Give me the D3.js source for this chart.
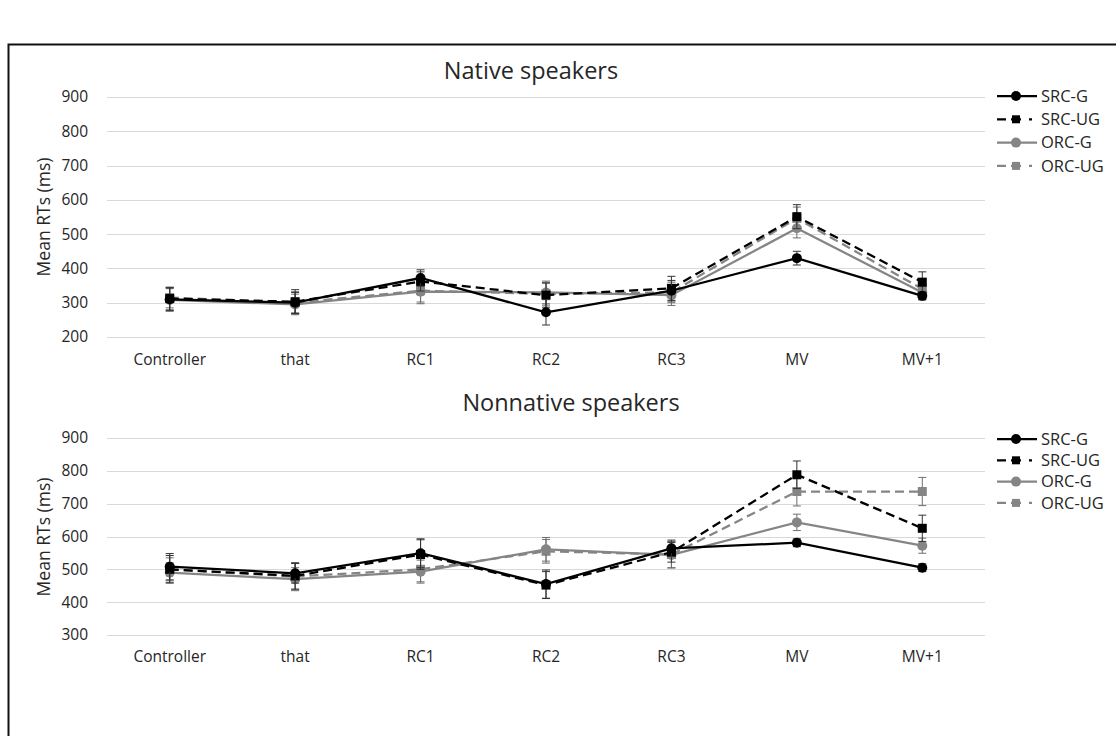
<!DOCTYPE html>
<html>
<head>
<meta charset="utf-8">
<script src="https://cdn.jsdelivr.net/npm/d3@7"></script>
<style>
  body { margin: 0; background: #fff; }
  text { font-family: "Open Sans", "Noto Sans", sans-serif; fill: #262626; }
</style>
</head>
<body>
<svg id="chart" width="1116" height="736"></svg>
<script>
const categories = ['Controller', 'that', 'RC1', 'RC2', 'RC3', 'MV', 'MV+1'];
const seriesNames = ['SRC-G', 'SRC-UG', 'ORC-G', 'ORC-UG'];

// native speakers: mean RTs and error (+/-)
const nativeSrcG = [310, 300, 372, 272, 335, 430, 320];
const nativeSrcUG = [312, 303, 362, 322, 342, 551, 360];
const nativeOrcG = [308, 295, 332, 330, 322, 517, 330];
const nativeOrcUG = [315, 300, 335, 326, 330, 546, 340];
const nativeSrcGErr = [33, 30, 24, 37, 30, 20, 12];
const nativeSrcUGErr = [33, 35, 28, 35, 35, 35, 30];
const nativeOrcGErr = [33, 30, 35, 33, 30, 28, 18];
const nativeOrcUGErr = [30, 32, 33, 33, 30, 33, 30];

// nonnative speakers
const nonnativeSrcG = [508, 488, 549, 455, 564, 581, 505];
const nonnativeSrcUG = [500, 480, 545, 452, 552, 788, 625];
const nonnativeOrcG = [490, 470, 493, 561, 544, 643, 572];
const nonnativeOrcUG = [500, 478, 500, 555, 545, 737, 737];
const nonnativeSrcGErr = [40, 30, 44, 43, 25, 12, 12];
const nonnativeSrcUGErr = [42, 40, 45, 41, 30, 42, 40];
const nonnativeOrcGErr = [30, 35, 35, 36, 40, 25, 23];
const nonnativeOrcUGErr = [35, 40, 38, 36, 40, 44, 43];

const nativeTicks = [200, 300, 400, 500, 600, 700, 800, 900];
const nonnativeTicks = [300, 400, 500, 600, 700, 800, 900];

const styles = {
  'SRC-G':  { color: '#000000', dash: null, legendDash: null, shape: 'circle' },
  'SRC-UG': { color: '#000000', dash: '9,5', legendDash: '9,5,10,8,3,20', shape: 'square' },
  'ORC-G':  { color: '#858585', dash: null, legendDash: null, shape: 'circle' },
  'ORC-UG': { color: '#858585', dash: '9,5', legendDash: '9,5,10,8,3,20', shape: 'square' }
};

const svg = d3.select('#chart');

// outer frame (only top and left edges are in view)
svg.append('path')
    .attr('d', 'M8.5,736 L8.5,44.5 L1116,44.5')
    .attr('fill', 'none')
    .attr('stroke', '#111')
    .attr('stroke-width', 2);

function drawPanel(opt) {
  const x = d3.scaleBand().domain(categories).range([107, 985]);
  const y = d3.scaleLinear().domain(opt.domain).range([opt.bottom, opt.top]);
  const g = svg.append('g');

  g.append('g').selectAll('line')
    .data(opt.ticks)
    .enter().append('line')
      .attr('x1', 107).attr('x2', 985)
      .attr('y1', function(d) { return Math.round(y(d)) + 0.5; })
      .attr('y2', function(d) { return Math.round(y(d)) + 0.5; })
      .attr('stroke', '#d9d9d9')
      .attr('stroke-width', 1.2);

  const yAxis = g.append('g')
      .attr('transform', 'translate(107,0)')
      .call(d3.axisLeft(y).tickValues(opt.ticks).tickSize(0).tickPadding(19));
  yAxis.select('.domain').remove();
  yAxis.selectAll('text')
      .attr('font-size', 15.5)
      .attr('fill', '#404040')
      .style('font-family', '"Open Sans", sans-serif');

  const xAxis = g.append('g')
      .attr('transform', 'translate(0,' + opt.labelY + ')')
      .call(d3.axisBottom(x).tickSize(0).tickPadding(0));
  xAxis.select('.domain').remove();
  xAxis.selectAll('text')
      .attr('font-size', 15.5)
      .attr('fill', '#404040')
      .style('font-family', '"Open Sans", sans-serif');

  g.append('text')
      .attr('x', opt.titleX)
      .attr('y', opt.titleY)
      .attr('text-anchor', 'middle')
      .attr('font-size', 23.5)
      .attr('fill', '#1a1a1a')
      .text(opt.title);

  g.append('text')
      .attr('transform', 'translate(50,' + opt.yLabelY + ') rotate(-90)')
      .attr('text-anchor', 'middle')
      .attr('font-size', 17.5)
      .attr('fill', '#404040')
      .text('Mean RTs (ms)');

  const cx = function(i) { return x(categories[i]) + x.bandwidth() / 2; };
  const line = d3.line()
      .x(function(d, i) { return cx(i); })
      .y(function(d) { return y(d); });

  // draw grey series first so black lands on top
  const order = ['ORC-UG', 'ORC-G', 'SRC-UG', 'SRC-G'];
  order.forEach(function(name) {
    const s = styles[name];
    const vals = opt.values[name];
    const errs = opt.errors[name];
    const sg = g.append('g');

    sg.selectAll('g.err')
      .data(vals)
      .enter().append('g')
        .attr('class', 'err')
        .each(function(d, i) {
          const e = d3.select(this);
          const xx = cx(i);
          e.append('line')
            .attr('x1', xx).attr('x2', xx)
            .attr('y1', y(d - errs[i])).attr('y2', y(d + errs[i]));
          e.append('line')
            .attr('x1', xx - 4).attr('x2', xx + 4)
            .attr('y1', y(d - errs[i])).attr('y2', y(d - errs[i]));
          e.append('line')
            .attr('x1', xx - 4).attr('x2', xx + 4)
            .attr('y1', y(d + errs[i])).attr('y2', y(d + errs[i]));
          e.selectAll('line')
            .attr('stroke', s.color === '#000000' ? '#333' : '#6e6e6e')
            .attr('stroke-width', 1);
        });

    sg.append('path')
        .datum(vals)
        .attr('d', line)
        .attr('fill', 'none')
        .attr('stroke', s.color)
        .attr('stroke-width', 2.25)
        .attr('stroke-dasharray', s.dash);

    if (s.shape === 'circle') {
      sg.selectAll('circle')
        .data(vals)
        .enter().append('circle')
          .attr('cx', function(d, i) { return cx(i); })
          .attr('cy', function(d) { return y(d); })
          .attr('r', 5)
          .attr('fill', s.color);
    } else {
      sg.selectAll('rect')
        .data(vals)
        .enter().append('rect')
          .attr('x', function(d, i) { return cx(i) - 4.5; })
          .attr('y', function(d) { return y(d) - 4.5; })
          .attr('width', 9)
          .attr('height', 9)
          .attr('fill', s.color);
    }
  });

  // legend
  const lg = g.append('g');
  seriesNames.forEach(function(name, i) {
    const s = styles[name];
    const ly = opt.legendY + i * opt.legendStep;
    lg.append('line')
        .attr('x1', 997).attr('x2', 1037)
        .attr('y1', ly).attr('y2', ly)
        .attr('stroke', s.color)
        .attr('stroke-width', 2.25)
        .attr('stroke-dasharray', s.legendDash);
    if (s.shape === 'circle') {
      lg.append('circle').attr('cx', 1016).attr('cy', ly).attr('r', 5).attr('fill', s.color);
    } else {
      lg.append('rect').attr('x', 1012).attr('y', ly - 4).attr('width', 8).attr('height', 8).attr('fill', s.color);
    }
    lg.append('text')
        .attr('x', 1041)
        .attr('y', ly)
        .attr('dy', '0.35em')
        .attr('font-size', 16.5)
        .attr('fill', '#404040')
        .text(name);
  });
}

drawPanel({
  title: 'Native speakers', titleX: 531, titleY: 79,
  domain: [200, 900], ticks: nativeTicks, top: 97, bottom: 337,
  labelY: 354, yLabelY: 217,
  legendY: 96, legendStep: 23.3,
  values: { 'SRC-G': nativeSrcG, 'SRC-UG': nativeSrcUG, 'ORC-G': nativeOrcG, 'ORC-UG': nativeOrcUG },
  errors: { 'SRC-G': nativeSrcGErr, 'SRC-UG': nativeSrcUGErr, 'ORC-G': nativeOrcGErr, 'ORC-UG': nativeOrcUGErr }
});

drawPanel({
  title: 'Nonnative speakers', titleX: 571, titleY: 411,
  domain: [300, 900], ticks: nonnativeTicks, top: 438, bottom: 635,
  labelY: 651, yLabelY: 537,
  legendY: 439, legendStep: 21.3,
  values: { 'SRC-G': nonnativeSrcG, 'SRC-UG': nonnativeSrcUG, 'ORC-G': nonnativeOrcG, 'ORC-UG': nonnativeOrcUG },
  errors: { 'SRC-G': nonnativeSrcGErr, 'SRC-UG': nonnativeSrcUGErr, 'ORC-G': nonnativeOrcGErr, 'ORC-UG': nonnativeOrcUGErr }
});
</script>
</body>
</html>
